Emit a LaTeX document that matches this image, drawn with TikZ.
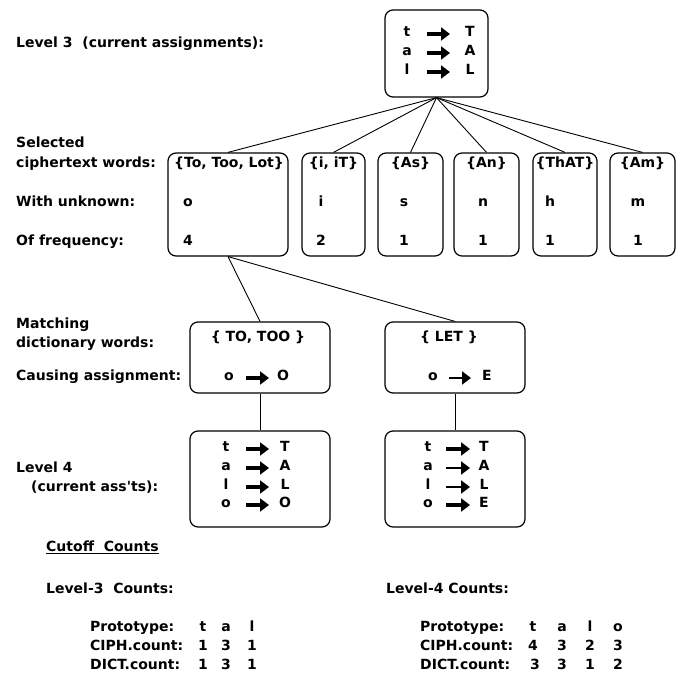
\documentclass[tikz,border=0pt]{standalone}
\usepackage{fontspec}
\setmainfont{DejaVu Sans}
\usetikzlibrary{arrows.meta}
\begin{document}
\begin{tikzpicture}[x=1pt,y=-1pt,
  txt/.style={inner sep=0pt, font=\bfseries\fontsize{14}{16}\selectfont},
  lab/.style={txt, anchor=mid west},
  ctr/.style={txt, anchor=mid},
  box/.style={draw, line width=1.2pt, rounded corners=8pt, inner sep=0pt},
  conn/.style={line width=0.9pt},
  bigarrow/.style={line width=3.6pt, -{Triangle[length=9pt,width=13pt]}},
  thinarrow/.style={line width=2.4pt, -{Triangle[length=9pt,width=13pt]}},
]
\useasboundingbox (0,0) rectangle (680,679);

% ---------- boxes ----------
\node[box, minimum width=103pt, minimum height=87pt] (top) at (436.5,53.5) {};
\node[box, minimum width=120pt, minimum height=103pt] (m1) at (228,204.5) {};
\node[box, minimum width=63pt, minimum height=103pt] (m2) at (333.5,204.5) {};
\node[box, minimum width=65pt, minimum height=103pt] (m3) at (410.5,204.5) {};
\node[box, minimum width=65pt, minimum height=103pt] (m4) at (486.5,204.5) {};
\node[box, minimum width=64pt, minimum height=103pt] (m5) at (565,204.5) {};
\node[box, minimum width=65pt, minimum height=103pt] (m6) at (642.5,204.5) {};
\node[box, minimum width=140pt, minimum height=71pt] (d1) at (260,357.5) {};
\node[box, minimum width=140pt, minimum height=71pt] (d2) at (455,357.5) {};
\node[box, minimum width=140pt, minimum height=96pt] (l1) at (260,479) {};
\node[box, minimum width=140pt, minimum height=96pt] (l2) at (455,479) {};

% ---------- connectors ----------
\foreach \b in {m1,m2,m3,m4,m5,m6} \draw[conn] (top.south) -- (\b.north);
\draw[conn] (m1.south) -- (d1.north);
\draw[conn] (m1.south) -- (d2.north);
\draw[conn] (d1.south) -- (l1.north);
\draw[conn] (d2.south) -- (l2.north);

% ---------- top box contents ----------
\node[ctr] (ta) at (407,34) {t};
\node[ctr] (tb) at (470,34) {T};
\node[ctr] (aa) at (407,53) {a};
\node[ctr] (ab) at (470,53) {A};
\node[ctr] (la) at (407,72) {l};
\node[ctr] (lb) at (470,72) {L};
\foreach \y in {34,53,72} \draw[bigarrow] (427,\y) -- (450,\y);

% ---------- left labels ----------
\node[lab] (h3) at (16,45) {Level 3\ \ (current assignments):};
\node[lab] (s1) at (16,145) {Selected};
\node[lab] (s2) at (16,165) {ciphertext words:};
\node[lab] (s3) at (16,204) {With unknown:};
\node[lab] (s4) at (16,243) {Of frequency:};
\node[lab] (s5) at (16,326) {Matching};
\node[lab] (s6) at (16,345) {dictionary words:};
\node[lab] (s7) at (16,378) {Causing assignment:};
\node[lab] (s8) at (16,470) {Level 4};
\node[lab] (s9) at (31,489) {(current ass\textquotesingle ts):};

% ---------- middle boxes contents ----------
\node[ctr] (w1) at (229,165) {\{To, Too, Lot\}};
\node[ctr] (w2) at (333.5,165) {\{i, iT\}};
\node[ctr] (w3) at (410.5,165) {\{As\}};
\node[ctr] (w4) at (486.5,165) {\{An\}};
\node[ctr] (w5) at (565,165) {\{ThAT\}};
\node[ctr] (w6) at (642.5,165) {\{Am\}};
\node[ctr] (u1) at (188,204) {o};
\node[ctr] (u2) at (321,204) {i};
\node[ctr] (u3) at (404,204) {s};
\node[ctr] (u4) at (483,204) {n};
\node[ctr] (u5) at (550,204) {h};
\node[ctr] (u6) at (638,204) {m};
\node[ctr] (f1) at (188,243) {4};
\node[ctr] (f2) at (321,243) {2};
\node[ctr] (f3) at (404,243) {1};
\node[ctr] (f4) at (483,243) {1};
\node[ctr] (f5) at (550,243) {1};
\node[ctr] (f6) at (638,243) {1};

% ---------- dictionary boxes ----------
\node[ctr] (dw1) at (258,339) {\{ TO, TOO \}};
\node[ctr] (dw2) at (449,339) {\{ LET \}};
\node[ctr] (da1) at (229,378) {o};
\draw[bigarrow] (246,378) -- (269,378);
\node[ctr] (db1) at (283,378) {O};
\node[ctr] (da2) at (433,378) {o};
\draw[thinarrow] (449,378) -- (471,378);
\node[ctr] (db2) at (487,378) {E};

% ---------- level 4 boxes ----------
\node[ctr] (p1) at (226,449) {t};
\node[ctr] (p2) at (226,468) {a};
\node[ctr] (p3) at (226,487) {l};
\node[ctr] (p4) at (226,505) {o};
\node[ctr] (q1) at (285,449) {T};
\node[ctr] (q2) at (285,468) {A};
\node[ctr] (q3) at (285,487) {L};
\node[ctr] (q4) at (285,505) {O};
\foreach \y in {449,468,487,505} \draw[bigarrow] (246,\y) -- (269,\y);
\node[ctr] (r1) at (428,449) {t};
\node[ctr] (r2) at (428,468) {a};
\node[ctr] (r3) at (428,487) {l};
\node[ctr] (r4) at (428,505) {o};
\node[ctr] (v1) at (484,449) {T};
\node[ctr] (v2) at (484,468) {A};
\node[ctr] (v3) at (484,487) {L};
\node[ctr] (v4) at (484,505) {E};
\draw[bigarrow] (446,449) -- (470,449);
\draw[thinarrow] (446,468) -- (470,468);
\draw[thinarrow] (446,487) -- (470,487);
\draw[bigarrow] (446,505) -- (470,505);

% ---------- cutoff counts ----------
\node[lab] (cc) at (46,549) {\underline{Cutoff\ \ Counts}};
\node[lab] (c3) at (46,591) {Level-3\ \ Counts:};
\node[lab] (c4) at (386,591) {Level-4 Counts:};

\node[lab] (pl) at (90,629) {Prototype:};
\node[lab] (cl) at (90,648) {CIPH.count:};
\node[lab] (dl) at (90,667) {DICT.count:};
\node[ctr] at (203,629) {t};
\node[ctr] at (226,629) {a};
\node[ctr] at (252,629) {l};
\node[ctr] at (203,648) {1};
\node[ctr] at (226,648) {3};
\node[ctr] at (252,648) {1};
\node[ctr] at (203,667) {1};
\node[ctr] at (226,667) {3};
\node[ctr] at (252,667) {1};

\node[lab] (pr) at (420,629) {Prototype:};
\node[lab] (cr) at (420,648) {CIPH.count:};
\node[lab] (dr) at (420,667) {DICT.count:};
\node[ctr] at (533,629) {t};
\node[ctr] at (562,629) {a};
\node[ctr] at (590,629) {l};
\node[ctr] at (618,629) {o};
\node[ctr] at (533,648) {4};
\node[ctr] at (562,648) {3};
\node[ctr] at (590,648) {2};
\node[ctr] at (618,648) {3};
\node[ctr] at (535,667) {3};
\node[ctr] at (562,667) {3};
\node[ctr] at (590,667) {1};
\node[ctr] at (618,667) {2};
\end{tikzpicture}
\end{document}
